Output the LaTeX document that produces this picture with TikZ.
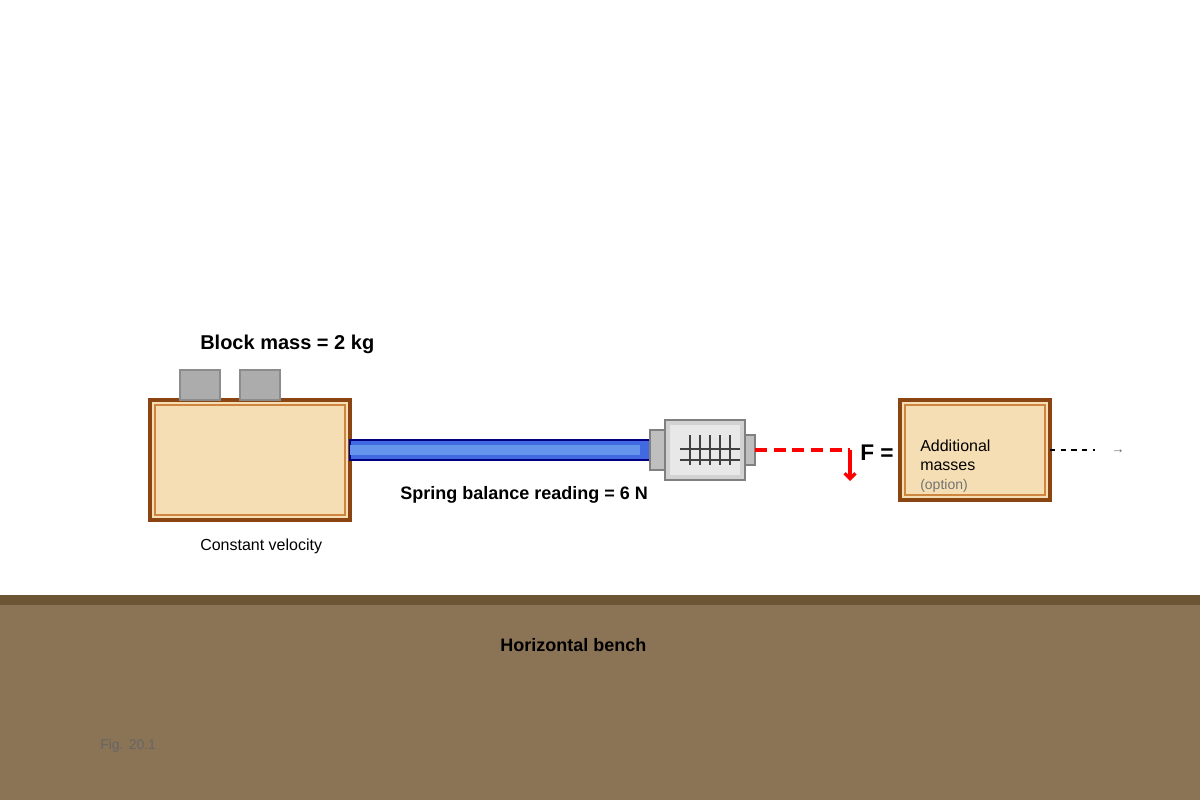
\documentclass[tikz,border=0pt]{standalone}
\usepackage{fontspec}
\setmainfont{Liberation Sans}
\usetikzlibrary{arrows.meta}
\definecolor{wood}{HTML}{F5DEB3}
\definecolor{brn}{HTML}{8B4513}
\definecolor{peru}{HTML}{CD853F}
\definecolor{rod}{HTML}{4169E1}
\definecolor{rodhl}{HTML}{6495ED}
\definecolor{navy}{HTML}{000080}
\definecolor{bench}{HTML}{8B7355}
\definecolor{benchtop}{HTML}{6B5535}
\tikzset{
  box/.style={fill=wood,draw=brn,line width=2.8pt},
  inbox/.style={draw=peru,line width=1pt},
  wt/.style={fill=gray!65,draw=gray!110!black,line width=1.4pt},
  metal/.style={fill=gray!50,draw=gray,line width=1.4pt},
  tick/.style={draw=black!75,line width=0.9pt},
  lbl/.style={anchor=west,inner sep=0pt},
}
\newcommand{\px}[1]{\fontsize{#1}{#1}\selectfont}
\begin{document}
\begin{tikzpicture}[x=0.75pt,y=-0.75pt]
\useasboundingbox (0,0) rectangle (1200,800);
% bench
\fill[bench] (0,595) rectangle (1200,800);
\fill[benchtop] (0,595) rectangle (1200,605);
\node[lbl] (bench) at (500,645) {\px{13.5}\bfseries Horizontal bench};
\node[lbl,text=black!60] (fig) at (100,746) {\px{10.5}Fig. 20.1};
% block
\draw[box] (150,400) rectangle (350,520);
\draw[inbox] (155,405) rectangle (345,515);
\draw[wt] (180,370) rectangle (220,400);
\draw[wt] (240,370) rectangle (280,400);
\node[lbl] (bm) at (200,344) {\px{15}\bfseries Block mass = 2 kg};
\node[lbl] (cv) at (200,546) {\px{12}Constant velocity};
% rod
\draw[fill=rod,draw=navy,line width=1.8pt] (350,440) rectangle (650,460);
\fill[rodhl] (350,445) rectangle (640,455);
% balance
\draw[metal] (650,430) rectangle (665,470);
\draw[fill=gray!35,draw=gray,line width=1.8pt] (665,420) rectangle (745,480);
\fill[gray!18] (670,425) rectangle (740,475);
\draw[metal] (745,435) rectangle (755,465);
\draw[tick] (680,449) -- (740,449) (680,460) -- (740,460);
\foreach \x in {690,700,710,720,730} \draw[tick] (\x,435) -- (\x,465);
\coordinate (bal) at (755,450);
\coordinate (corner) at (850,450);
\coordinate (tip) at (850,481);
\draw[red,line width=2.5pt,dash pattern=on 9pt off 5pt] (bal) -- (corner);
\draw[red,line width=2.5pt,-{Straight Barb[length=4pt,width=8pt]}] (corner) -- (tip);
\node[lbl] (sb) at (400,495) {\px{13.5}\bfseries Spring balance reading = 6 N};
\node[lbl] (F) at (860,453) {\px{17}\bfseries F =};
% additional masses
\draw[box] (900,400) rectangle (1050,500);
\draw[inbox] (905,405) rectangle (1045,495);
\node[lbl] (am1) at (920,446) {\px{12}Additional};
\node[lbl] (am2) at (920,466) {\px{12}masses};
\node[lbl,text=black!55] (opt) at (920,486) {\px{10.5}(option)};
\coordinate (d1) at (1050,450);
\coordinate (d2) at (1095,450);
\draw[black,line width=1.4pt,dash pattern=on 4pt off 4pt] (d1) -- (d2);
\node[lbl,text=black!60] (arr) at (1111,452) {\px{10}→};
\end{tikzpicture}
\end{document}
